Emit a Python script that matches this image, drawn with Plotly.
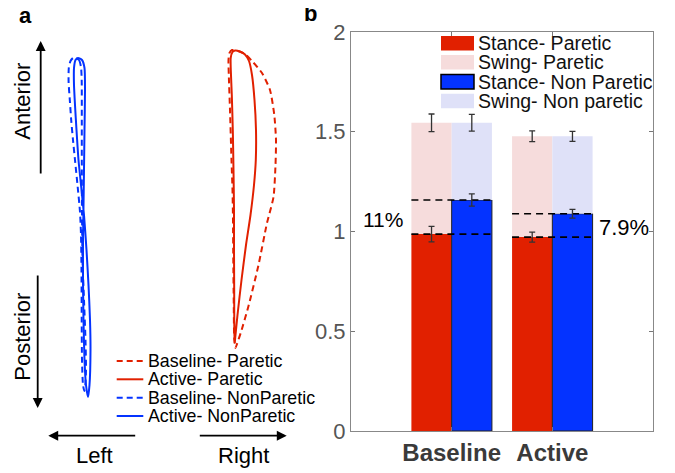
import plotly.graph_objects as go

# ---------------- Panel a: foot trajectories (arbitrary planar units) ----------------
baseline_paretic_x = [232, 238, 245, 252, 262, 270, 274.3, 276, 275.5, 273.5, 267, 258.5, 248.5, 241, 237, 235.5,
                      234.3, 233.7, 233.3, 233, 232.5, 231.5, 230, 228.8, 228.5, 229.5, 232]
baseline_paretic_y = [50, 51, 54, 61, 73, 90, 115, 140, 165, 197, 223, 265, 306, 332, 344, 348,
                      340, 300, 260, 220, 190, 160, 110, 75, 60, 53, 50]

active_paretic_x = [235, 240, 245, 249, 252, 254.5, 256, 255.8, 254, 250.5, 246, 241.5, 237.5, 235.2, 234.7,
                    234.3, 234.2, 234, 234, 233.5, 232.8, 231.8, 230.8, 230.7, 232.5, 235]
active_paretic_y = [50.5, 51.5, 54.5, 61, 75, 100, 130, 160, 185, 215, 245, 280, 315, 338, 343,
                    330, 290, 250, 210, 170, 130, 95, 70, 58, 52, 50.5]

baseline_nonparetic_x = [75, 79, 81, 81.7, 81.8, 81.8, 82, 82.5, 84, 85.5, 86, 85.3, 84.3, 83, 82, 81.7, 81.5,
                         81, 80, 77.5, 75, 73, 71.2, 69.8, 68.6, 68.8, 70.5, 73, 75]
baseline_nonparetic_y = [57.5, 60, 67, 80, 120, 160, 212, 260, 300, 340, 370, 385, 391, 385, 360, 320, 270,
                         235, 212, 185, 160, 140, 120, 100, 82, 68, 61, 58, 57.5]

active_nonparetic_x = [78, 82, 84.5, 85, 84.5, 84, 83.5, 83, 83, 83.5, 84.5, 86, 88, 89.5, 90.5, 90, 88.5,
                       86.5, 84, 81, 78.5, 76.5, 75, 74, 74, 75.5, 78]
active_nonparetic_y = [58, 60, 68, 90, 130, 170, 207, 240, 280, 320, 360, 385, 397, 385, 350, 320, 285,
                       250, 215, 185, 160, 130, 105, 85, 68, 60, 58]

traj_names = ["Baseline- Paretic", "Active- Paretic", "Baseline- NonParetic", "Active- NonParetic"]

# ---------------- Panel b: gait cycle durations ----------------
conditions = ["Baseline", "Active"]
stance_paretic = [0.987, 0.972]
stance_paretic_err = [0.039, 0.025]
stance_nonparetic = [1.158, 1.089]
stance_nonparetic_err = [0.031, 0.022]
total_paretic = [1.545, 1.477]
total_paretic_err = [0.044, 0.027]
total_nonparetic = [1.545, 1.477]
total_nonparetic_err = [0.042, 0.025]
asym_labels = ["11%", "7.9%"]
bar_names = ["Stance- Paretic", "Swing- Paretic", "Stance- Non Paretic", "Swing- Non paretic"]
y_ticks = [0, 0.5, 1, 1.5, 2]

RED = "#E12000"
BLUE = "#0433FF"
PINK = "#F6DCDC"
LAV = "#DFE1F8"
FONT = "Liberation Sans, Arial, Helvetica, sans-serif"
W, H = 675, 473
OFF = 8  # page offset of the figure inside the browser window


def px(xp_):
    return (xp_ - OFF) / W


def py(yp_):
    return 1 - (yp_ - OFF) / H


fig = go.Figure()

# trajectories
traj = [
    (baseline_paretic_x, baseline_paretic_y, RED, "6px,4px"),
    (active_paretic_x, active_paretic_y, RED, "solid"),
    (baseline_nonparetic_x, baseline_nonparetic_y, BLUE, "6px,4px"),
    (active_nonparetic_x, active_nonparetic_y, BLUE, "solid"),
]
for (xs, ys, c, d), nm in zip(traj, traj_names):
    fig.add_trace(go.Scatter(x=xs, y=ys, mode="lines", name=nm, showlegend=False,
                             line=dict(color=c, width=2, dash=d, shape="spline", smoothing=0.6),
                             xaxis="x", yaxis="y", hoverinfo="skip"))

# bars
group_x = [1, 2]
half = 0.2
bw = 0.4
xp = [g - half for g in group_x]
xn = [g + half for g in group_x]
swing_p = [t - s for t, s in zip(total_paretic, stance_paretic)]
swing_n = [t - s for t, s in zip(total_nonparetic, stance_nonparetic)]

fig.add_trace(go.Bar(x=xp, y=stance_paretic, width=bw, marker=dict(color=RED, line=dict(width=0)),
                     name=bar_names[0], showlegend=False, xaxis="x2", yaxis="y2"))
fig.add_trace(go.Bar(x=xp, y=swing_p, base=stance_paretic, width=bw, marker=dict(color=PINK, line=dict(width=0)),
                     name=bar_names[1], showlegend=False, xaxis="x2", yaxis="y2"))
fig.add_trace(go.Bar(x=xn, y=stance_nonparetic, width=bw, marker=dict(color=BLUE, line=dict(width=1, color="#222")),
                     name=bar_names[2], showlegend=False, xaxis="x2", yaxis="y2"))
fig.add_trace(go.Bar(x=xn, y=swing_n, base=stance_nonparetic, width=bw, marker=dict(color=LAV, line=dict(width=0)),
                     name=bar_names[3], showlegend=False, xaxis="x2", yaxis="y2"))

# dashed reference lines across each group
for i, g in enumerate(group_x):
    for v in (stance_paretic[i], stance_nonparetic[i]):
        fig.add_trace(go.Scatter(x=[g - 2 * half, g + 2 * half], y=[v, v], mode="lines",
                                 line=dict(color="black", width=1.6, dash="7px,5px"),
                                 showlegend=False, xaxis="x2", yaxis="y2", hoverinfo="skip"))

# error bars
for xs, ys, es in [(xp, stance_paretic, stance_paretic_err), (xp, total_paretic, total_paretic_err),
                   (xn, stance_nonparetic, stance_nonparetic_err), (xn, total_nonparetic, total_nonparetic_err)]:
    fig.add_trace(go.Scatter(x=xs, y=ys, mode="markers", marker=dict(size=1, color="rgba(0,0,0,0)"),
                             error_y=dict(type="data", array=es, color="#333", thickness=1.3, width=3),
                             showlegend=False, xaxis="x2", yaxis="y2", hoverinfo="skip"))

annotations = []
shapes = []


# panel a arrows
def arrow(x, y, ax, ay):
    annotations.append(dict(x=x, y=y, ax=ax, ay=ay, xref="x", yref="y", axref="x", ayref="y",
                            text="", showarrow=True, arrowhead=2, arrowsize=1.1, arrowwidth=1.8,
                            arrowcolor="black"))


arrow(40.7, 41, 40.7, 175)
arrow(37.7, 408, 37.7, 274)
arrow(48.3, 435.7, 136.7, 435.7)
arrow(286.7, 435.7, 198.3, 435.7)


def txt(x, y, s, size, xref="x", yref="y", angle=0, xanchor="center", bold=False, color="black"):
    annotations.append(dict(x=x, y=y, xref=xref, yref=yref, text=f"<b>{s}</b>" if bold else s,
                            showarrow=False, textangle=angle, xanchor=xanchor, yanchor="middle",
                            font=dict(family=FONT, size=size, color=color)))


txt(23, 101.7, "Anterior", 22, angle=-90)
txt(23, 336.7, "Posterior", 22, angle=-90)
txt(94, 455, "Left", 22)
txt(243, 455, "Right", 22)
txt(25, 15, "a", 22, bold=True)
txt(px(310), py(13), "b", 22, xref="paper", yref="paper", bold=True)

# panel a legend
leg_a_rows = [361, 379.3, 397.7, 416]
for (xs, ys, c, d), nm, ry in zip(traj, traj_names, leg_a_rows):
    shapes.append(dict(type="line", xref="x", yref="y", x0=116.7, x1=143.3, y0=ry, y1=ry,
                       line=dict(color=c, width=2, dash=d)))
    txt(145.5, ry, nm, 17.8, xanchor="left")

# panel b legend
leg_b_rows = [43.3, 62.3, 81.7, 101]
leg_b_cols = [RED, PINK, BLUE, LAV]
for nm, ry, c in zip(bar_names, leg_b_rows, leg_b_cols):
    lw = 1.5 if c == BLUE else 0
    shapes.append(dict(type="rect", xref="paper", yref="paper",
                       x0=px(441), x1=px(474), y0=py(ry - 7.3), y1=py(ry + 7.3),
                       fillcolor=c, line=dict(width=lw, color="black")))
    txt(px(475.5), py(ry), nm, 19.5, xref="paper", yref="paper", xanchor="left", color="#111")

# asymmetry labels
txt(0.318, 1.058, asym_labels[0], 21, xref="x2", yref="y2")
txt(2.712, 1.018, asym_labels[1], 22, xref="x2", yref="y2")

fig.update_layout(
    width=W, height=H, margin=dict(l=0, r=0, t=0, b=0, pad=0, autoexpand=False),
    paper_bgcolor="white", plot_bgcolor="rgba(0,0,0,0)",
    barmode="overlay", showlegend=False,
    font=dict(family=FONT),
    annotations=annotations, shapes=shapes,
    xaxis=dict(domain=[0, 340 / W], range=[OFF, OFF + 340], visible=False, fixedrange=True, automargin=False),
    yaxis=dict(domain=[0, 1], range=[OFF + H, OFF], visible=False, fixedrange=True, automargin=False),
    xaxis2=dict(domain=[px(351), px(653)], range=[0, 3], anchor="y2", automargin=False,
                tickvals=group_x, ticktext=[f"<b>{c}</b>" for c in conditions],
                ticks="inside", ticklen=4, tickcolor="#777", showline=True, linecolor="#888",
                linewidth=1, mirror="allticks", showgrid=False, zeroline=False,
                tickfont=dict(family=FONT, size=24, color="#3a3a3a")),
    yaxis2=dict(domain=[py(431), py(32)], range=[0, 2], anchor="x2", automargin=False,
                tickvals=y_ticks, ticktext=[f"{v:g}" for v in y_ticks],
                ticks="inside", ticklen=4, tickcolor="#777", showline=True, linecolor="#888",
                linewidth=1, mirror="allticks", showgrid=False, zeroline=False,
                tickfont=dict(family=FONT, size=22, color="#555")),
)

fig.write_html("out.html")
